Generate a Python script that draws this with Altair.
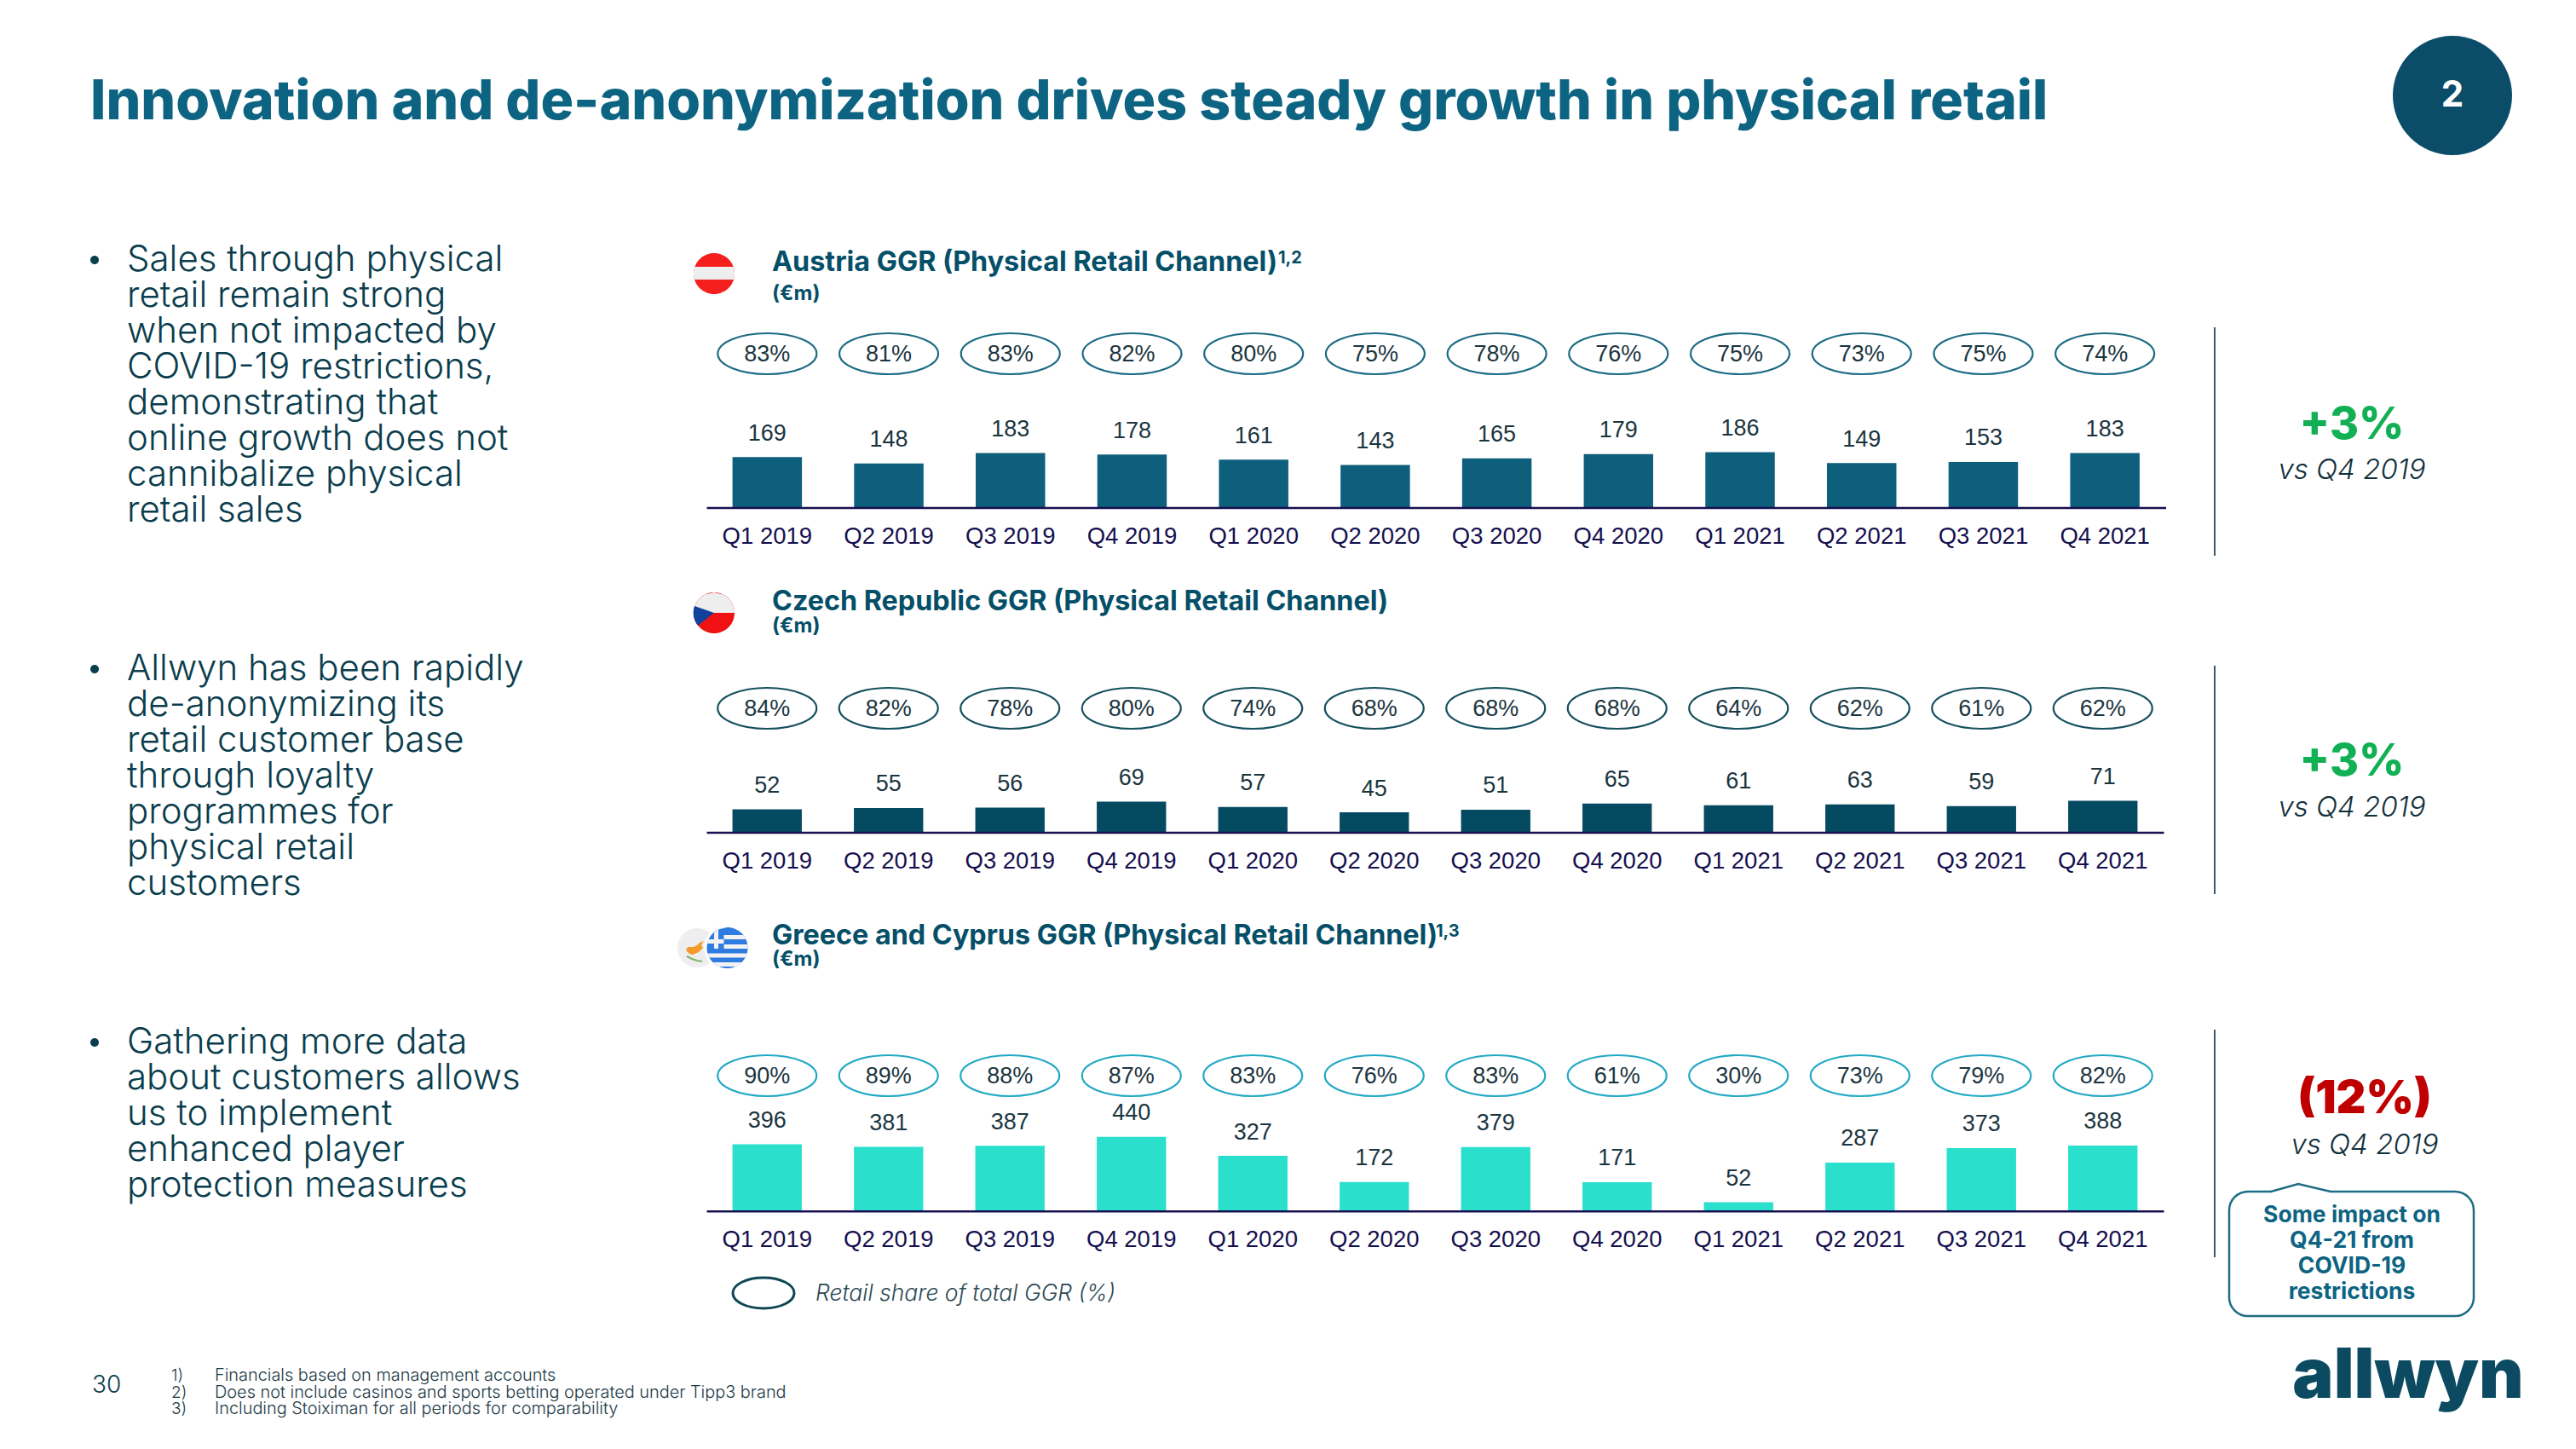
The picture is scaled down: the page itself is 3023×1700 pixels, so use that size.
import math
import altair as alt
import pandas as pd

QUARTERS = ["Q1 2019","Q2 2019","Q3 2019","Q4 2019","Q1 2020","Q2 2020","Q3 2020","Q4 2020","Q1 2021","Q2 2021","Q3 2021","Q4 2021"]
AT_GGR = [169,148,183,178,161,143,165,179,186,149,153,183]
AT_SHARE = [83,81,83,82,80,75,78,76,75,73,75,74]
CZ_GGR = [52,55,56,69,57,45,51,65,61,63,59,71]
CZ_SHARE = [84,82,78,80,74,68,68,68,64,62,61,62]
GR_GGR = [396,381,387,440,327,172,379,171,52,287,373,388]
GR_SHARE = [90,89,88,87,83,76,83,61,30,73,79,82]

TITLE = "Innovation and de-anonymization drives steady growth in physical retail"
BULLETS = [
    ["Sales through physical","retail remain strong","when not impacted by","COVID-19 restrictions,","demonstrating that","online growth does not","cannibalize physical","retail sales"],
    ["Allwyn has been rapidly","de-anonymizing its","retail customer base","through loyalty","programmes for","physical retail","customers"],
    ["Gathering more data","about customers allows","us to implement","enhanced player","protection measures"],
]
FOOTNOTES = ["Financials based on management accounts","Does not include casinos and sports betting operated under Tipp3 brand","Including Stoiximan for all periods for comparability"]
CALLOUT = ["Some impact on", "Q4-21 from", "COVID-19", "restrictions"]

W, H = 3000, 1680
SANS = "Inter"
ARIAL = "Liberation Sans"
one = alt.Data(values=[{"a": 1}])

def text(x, y, s, size, color, weight=400, font=SANS, align="left", baseline="alphabetic", style="normal", lh=None):
    kw = dict(lineHeight=lh) if lh else {}
    return alt.Chart(one).mark_text(fontSize=size, color=color, fontWeight=weight, font=font, align=align,
                                    baseline=baseline, fontStyle=style, text=s, **kw).encode(
        x=alt.value(x - 8), y=alt.value(y - 8))

def shape(x, y, path, fill=None, stroke=None, sw=0):
    kw = dict(shape=path, size=4, opacity=1)
    if fill:
        kw.update(filled=True, fill=fill, strokeWidth=0)
    else:
        kw.update(filled=False, fill="transparent", stroke=stroke, strokeWidth=sw)
    return alt.Chart(one).mark_point(**kw).encode(x=alt.value(x - 8), y=alt.value(y - 8))

def vline(x, y0, y1, color="#3a5a68", sw=2):
    return alt.Chart(one).mark_rule(color=color, strokeWidth=sw).encode(
        x=alt.value(x - 8), y=alt.value(y0 - 8), y2=alt.value(y1 - 8))

def ellipse(rx, ry):
    return f"M {-rx} 0 A {rx} {ry} 0 1 1 {rx} 0 A {rx} {ry} 0 1 1 {-rx} 0 Z"

def clip(r, y0, y1, xmin=-1e9, xmax=1e9, n=10):
    ys = [y0 + (y1 - y0) * i / n for i in range(n + 1)]
    right = [(min(math.sqrt(max(r*r - v*v, 0)), xmax), v) for v in ys]
    left = [(max(-math.sqrt(max(r*r - v*v, 0)), xmin), v) for v in reversed(ys)]
    pts = right + left
    return "M " + " L ".join(f"{a:.2f} {b:.2f}" for a, b in pts) + " Z"

def panel(ggr, share, base, px_per_unit, rng, oval_y, bar_color, oval_color, oval_h):
    df = pd.DataFrame({"q": QUARTERS, "v": ggr, "s": [f"{p}%" for p in share]})
    top = 500
    yscale = alt.Scale(domain=[0, top], range=[base - 8, base - 8 - top * px_per_unit], nice=False, zero=True)
    xscale = alt.Scale(type="band", domain=QUARTERS, range=[rng[0] - 8, rng[1] - 8], paddingInner=0.429, paddingOuter=0.2145)
    x_ax = alt.X("q:N", sort=None, scale=xscale, title=None,
                 axis=alt.Axis(orient="bottom", offset=(base - 8) - H, ticks=False, labelAngle=0, domainColor="#15104f",
                               domainWidth=2.5, labelColor="#15104f", labelFont=ARIAL, labelFontSize=27.5,
                               labelPadding=20, grid=False, labelOverlap=False, zindex=1))
    x_no = alt.X("q:N", sort=None, scale=xscale, title=None, axis=None)
    y_enc = alt.Y("v:Q", scale=yscale, title=None, axis=None, stack=None)
    c = alt.Chart(df)
    bars = c.mark_bar(color=bar_color).encode(x=x_ax, y=y_enc)
    vals = c.mark_text(font=ARIAL, fontSize=27, color="#1b3540", dy=-27.5, baseline="middle").encode(x=x_no, y=y_enc, text="v:Q")
    ovals = c.mark_point(shape=ellipse(58, oval_h / 2), size=4, filled=False, fill="transparent", stroke=oval_color, strokeWidth=2.2, opacity=1).encode(
        x=x_no, y=alt.value(oval_y - 8))
    pct = c.mark_text(font=ARIAL, fontSize=27, color="#1b3540", baseline="middle").encode(
        x=x_no, y=alt.value(oval_y - 8 + 1), text="s:N")
    return [bars, vals, ovals, pct]

layers = []
layers += panel(AT_GGR, AT_SHARE, 595.5, 0.35, (829, 2541.5), 415, "#0e5f7c", "#1b6a84", 48)
layers += panel(CZ_GGR, CZ_SHARE, 976.5, 0.52, (829, 2539), 831, "#044a60", "#15505f", 48)
layers += panel(GR_GGR, GR_SHARE, 1420.7, 0.1977, (829, 2539), 1262, "#2ae0cd", "#22a9c4", 48)

TEAL = "#0d6482"
DARK = "#0a3d4d"
layers.append(text(106, 140, TITLE, 64.4, TEAL, 800))
for block, y0 in zip(BULLETS, [318, 798, 1236]):
    layers.append(shape(111, y0 - 13, ellipse(5, 5), fill=DARK))
    layers.append(text(149, y0, block, 42, DARK, 300, lh=42))

# section titles
for x_y, t, sup, unit_y, sup_x in [
    ((906, 318), "Austria GGR (Physical Retail Channel)", "1,2", 352, 1500),
    ((906, 716), "Czech Republic GGR (Physical Retail Channel)", "", 742, 0),
    ((906, 1108), "Greece and Cyprus GGR (Physical Retail Channel)", "1,3", 1133, 1685),
]:
    layers.append(text(x_y[0], x_y[1], t, 32.3, "#054f68", 700))
    layers.append(text(906, unit_y, "(€m)", 24, "#054f68", 700))
    if sup:
        layers.append(text(sup_x, x_y[1] - 9, sup, 20, "#054f68", 700))

# flags
layers.append(shape(838, 321, ellipse(24, 24), fill="#f5201e"))
layers.append(shape(838, 321, clip(24, -8, 7), fill="#eeeeee"))
layers.append(shape(838, 719, ellipse(24, 24), fill="#f01212"))
layers.append(shape(838, 719, clip(24, -24, 0), fill="#eeeeee"))
layers.append(shape(838, 719, "M -23 -8 L 0 0 L -19 15 A 24 24 0 0 1 -23 -8 Z", fill="#11419b"))
layers.append(shape(818, 1112, ellipse(23, 23), fill="#eeeeee"))
layers.append(shape(818, 1112, "M -13 3 L -11 -1 L -4 -1 L 0 -3 L 3 -6 L 8 -8 L 5 -3 L 7 0 L 2 5 L -5 8 L -9 7 Z", fill="#f39a2c"))
layers.append(shape(818, 1112, "M -12 10 L -6 13 L 0 15 L 6 16", stroke="#7fb36f", sw=2))
layers.append(shape(853.5, 1112, ellipse(27, 27), fill="#ffffff"))
layers.append(shape(853.5, 1112, ellipse(24, 24), fill="#2f7be0"))
for y0, y1 in [(-15, -10), (-4, 1), (6.5, 11.5), (17, 22)]:
    layers.append(shape(853.5, 1112, clip(24, y0, y1, xmin=-4 if y1 < 5 else -1e9), fill="#f2f2f2"))
layers.append(shape(853.5, 1112, clip(24, -24, 1, xmin=-15.5, xmax=-10.5), fill="#f2f2f2"))
layers.append(shape(853.5, 1112, clip(24, -10, -5, xmax=-4), fill="#f2f2f2"))

# legend
layers.append(shape(896, 1517, ellipse(36, 18), stroke="#0f4654", sw=3))
layers.append(text(957, 1526, "Retail share of total GGR (%)", 26.5, "#2c4a55", 300, style="italic"))

# right side
for x, y0, y1 in [(2599, 384, 652), (2599, 781, 1049), (2599, 1208, 1475)]:
    layers.append(vline(x, y0, y1))
for cx, ky, vy, label, col, ks, kw in [(2760, 515, 562, "+3%", "#12b055", 52, 800), (2760, 910, 958, "+3%", "#12b055", 52, 800), (2775, 1306, 1354, "(12%)", "#c00000", 54, 900)]:
    layers.append(text(cx, ky, label, ks, col, kw, align="center"))
    layers.append(text(cx, vy, "vs Q4 2019", 33, "#12303c", 300, align="center", style="italic"))

callout = "M 0 22 A 22 22 0 0 1 22 0 L 49 0 L 81 -9 L 119 0 L 265 0 A 22 22 0 0 1 287 22 L 287 124 A 22 22 0 0 1 265 146 L 22 146 A 22 22 0 0 1 0 124 Z"
layers.append(shape(2616, 1398, callout, stroke="#1d6d85", sw=2.5))
layers.append(text(2760, 1434, CALLOUT, 26.5, TEAL, 700, align="center", lh=30))

layers.append(shape(2878, 112, ellipse(70, 70), fill="#0b4d69"))
layers.append(text(2878, 112, "2", 42, "#ffffff", 700, align="center", baseline="middle"))
layers.append(text(2826, 1640, "allwyn", 81, "#0b4a60", 900, align="center"))

# footer
layers.append(text(108, 1634, "30", 28, DARK, 300))
layers.append(text(201, 1620, [f"{i + 1})" for i in range(len(FOOTNOTES))], 19, "#1c3a46", 300, lh=19.5))
layers.append(text(252, 1620, FOOTNOTES, 19.9, "#1c3a46", 300, lh=19.5))

chart = alt.layer(*layers).resolve_scale(x="independent", y="independent").resolve_axis(x="independent", y="independent").properties(
    width=W, height=H, padding=0, autosize=alt.AutoSizeParams(type="none"), background="#ffffff"
).configure_view(stroke=None)

chart.save("out.html", embed_options={"renderer": "svg", "actions": False})
